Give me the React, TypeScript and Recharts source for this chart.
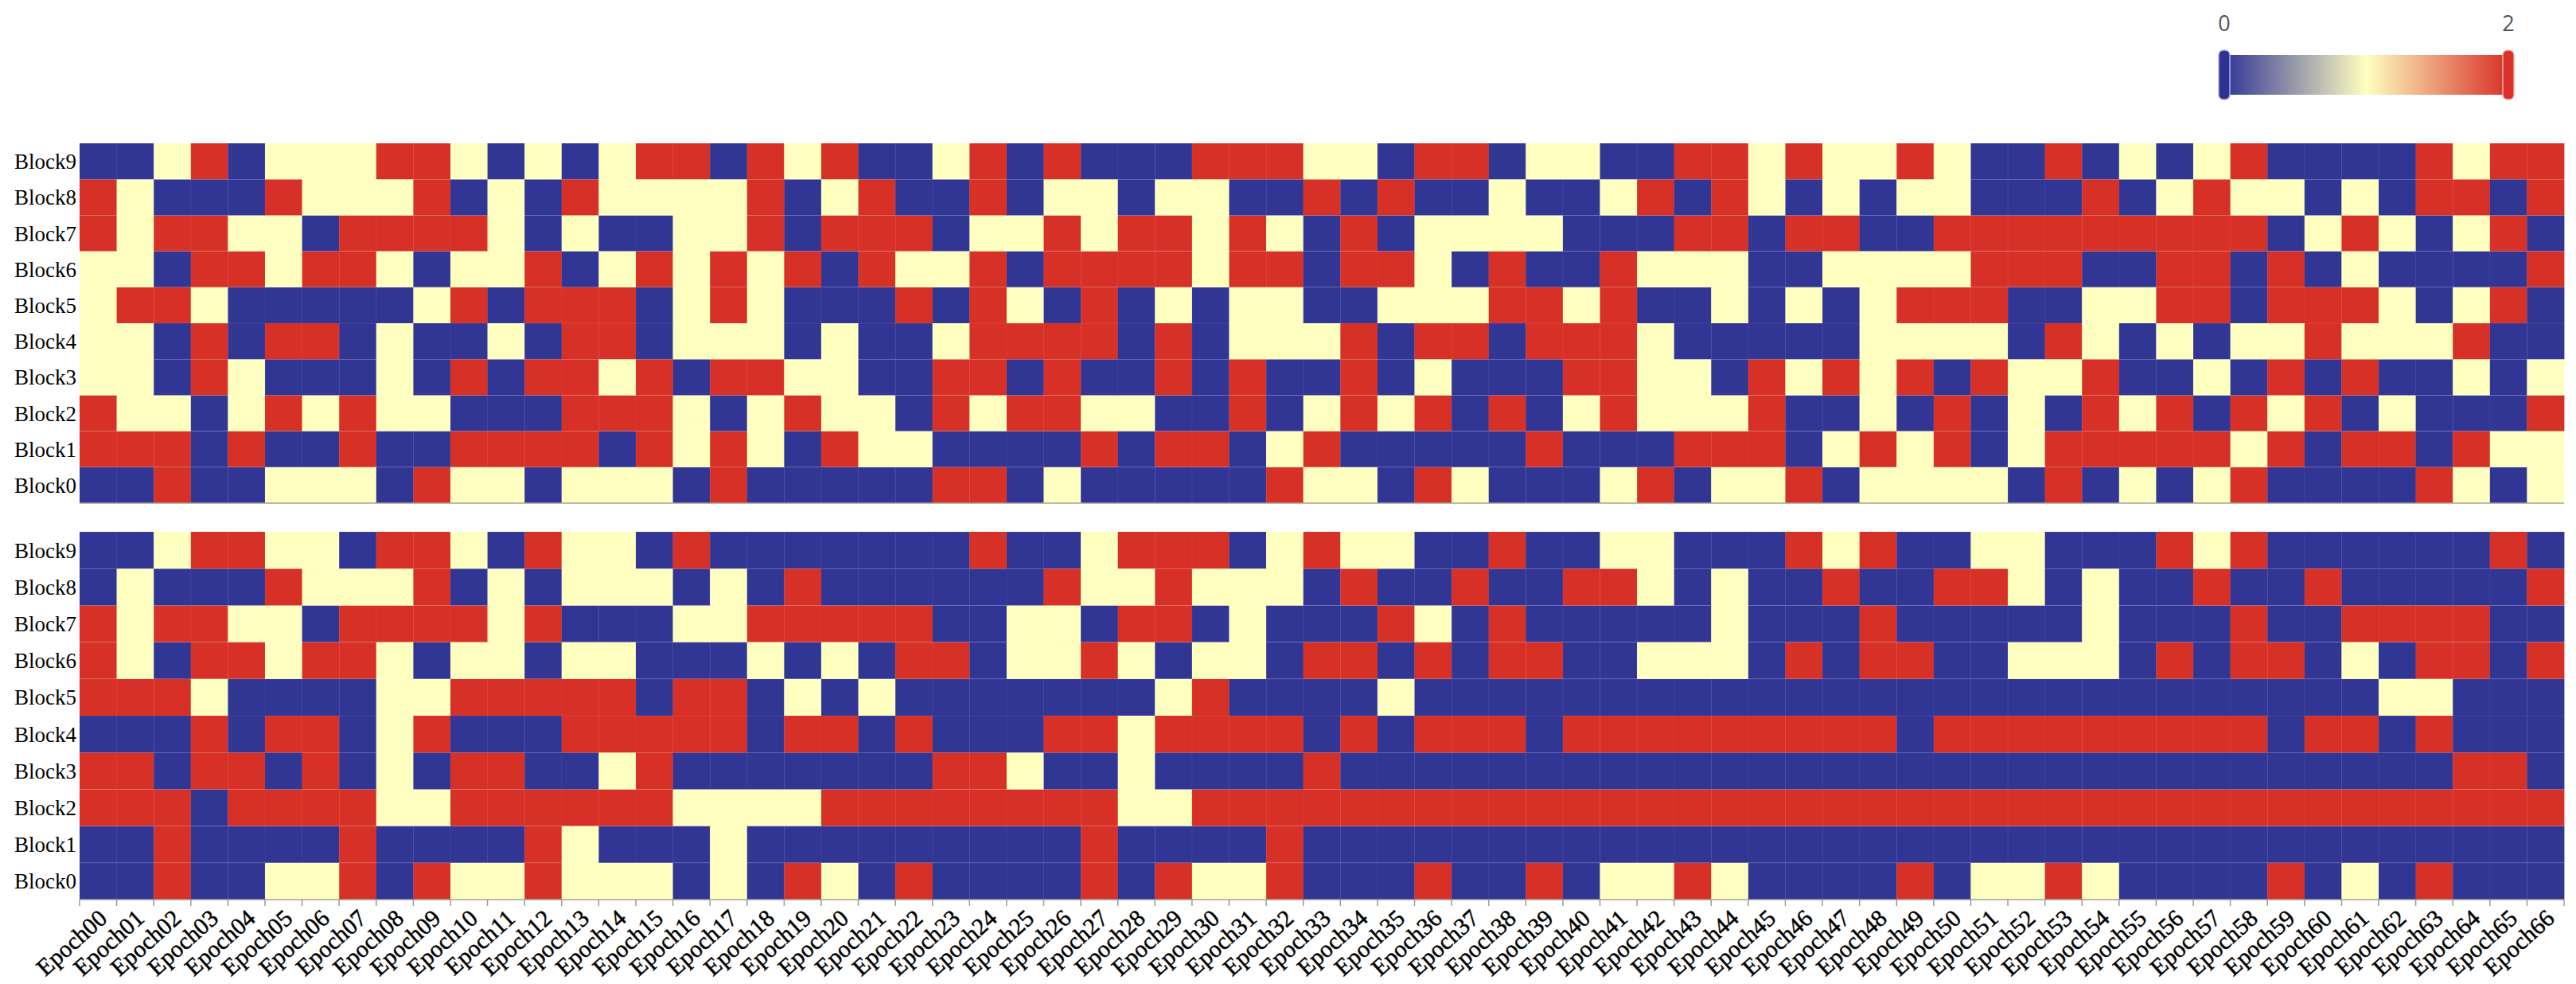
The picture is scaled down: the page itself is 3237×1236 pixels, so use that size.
import React from 'react'
import { BarChart, Bar, Cell, XAxis, YAxis } from 'recharts'

// cell states: 0 = blue, 1 = pale yellow, 2 = red
const COLORS = ['#313695', '#ffffbf', '#d73027']

const EPOCHS = Array.from({ length: 67 }, (_, i) => `Epoch${String(i).padStart(2, '0')}`)
const BLOCKS = ['Block0', 'Block1', 'Block2', 'Block3', 'Block4', 'Block5', 'Block6', 'Block7', 'Block8', 'Block9']
const COLORBAR_LABELS = ['0', '2']

// upper panel, one array per block, Epoch00..Epoch66
const topBlock9 = [0,0,1,2,0,1,1,1,2,2,1,0,1,0,1,2,2, 0,2,1,2,0,0,1,2,0,2,0,0,0,2,2,2,1, 1,0,2,2,0,1,1,0,0,2,2,1,2,1,1,2,1, 0,0,2,0,1,0,1,2,0,0,0,0,2,1,2,2]
const topBlock8 = [2,1,0,0,0,2,1,1,1,2,0,1,0,2,1,1,1, 1,2,0,1,2,0,0,2,0,1,1,0,1,1,0,0,2, 0,2,0,0,1,0,0,1,2,0,2,1,0,1,0,1,1, 0,0,0,2,0,1,2,1,1,0,1,0,2,2,0,2]
const topBlock7 = [2,1,2,2,1,1,0,2,2,2,2,1,0,1,0,0,1, 1,2,0,2,2,2,0,1,1,2,1,2,2,1,2,1,0, 2,0,1,1,1,1,0,0,0,2,2,0,2,2,0,0,2, 2,2,2,2,2,2,2,2,0,1,2,1,0,1,2,0]
const topBlock6 = [1,1,0,2,2,1,2,2,1,0,1,1,2,0,1,2,1, 2,1,2,0,2,1,1,2,0,2,2,2,2,1,2,2,0, 2,2,1,0,2,0,0,2,1,1,1,0,0,1,1,1,1, 2,2,2,0,0,2,2,0,2,0,1,0,0,0,0,2]
const topBlock5 = [1,2,2,1,0,0,0,0,0,1,2,0,2,2,2,0,1, 2,1,0,0,0,2,0,2,1,0,2,0,1,0,1,1,0, 0,1,1,1,2,2,1,2,0,0,1,0,1,0,1,2,2, 2,0,0,1,1,2,2,0,2,2,2,1,0,1,2,0]
const topBlock4 = [1,1,0,2,0,2,2,0,1,0,0,1,0,2,2,0,1, 1,1,0,1,0,0,1,2,2,2,2,0,2,0,1,1,1, 2,0,2,2,0,2,2,2,1,0,0,0,0,0,1,1,1, 1,0,2,1,0,1,0,1,1,2,1,1,1,2,0,0]
const topBlock3 = [1,1,0,2,1,0,0,0,1,0,2,0,2,2,1,2,0, 2,2,1,1,0,0,2,2,0,2,0,0,2,0,2,0,0, 2,0,1,0,0,0,2,2,1,1,0,2,1,2,1,2,0, 2,1,1,2,0,0,1,0,2,0,2,0,0,1,0,1]
const topBlock2 = [2,1,1,0,1,2,1,2,1,1,0,0,0,2,2,2,1, 0,1,2,1,1,0,2,1,2,2,1,1,0,0,2,0,1, 2,1,2,0,2,0,1,2,1,1,1,2,0,0,1,0,2, 0,1,0,2,1,2,0,2,1,2,0,1,0,0,0,2]
const topBlock1 = [2,2,2,0,2,0,0,2,0,0,2,2,2,2,0,2,1, 2,1,0,2,1,1,0,0,0,0,2,0,2,2,0,1,2, 0,0,0,0,0,2,0,0,0,2,2,2,0,1,2,1,2, 0,1,2,2,2,2,2,1,2,0,2,2,0,2,1,1]
const topBlock0 = [0,0,2,0,0,1,1,1,0,2,1,1,0,1,1,1,0, 2,0,0,0,0,0,2,2,0,1,0,0,0,0,0,2,1, 1,0,2,1,0,0,0,1,2,0,1,1,2,0,1,1,1, 1,0,2,0,1,0,1,2,0,0,0,0,2,1,0,1]

// lower panel
const botBlock9 = [0,0,1,2,2,1,1,0,2,2,1,0,2,1,1,0,2, 0,0,0,0,0,0,0,2,0,0,1,2,2,2,0,1,2, 1,1,0,0,2,0,0,1,1,0,0,0,2,1,2,0,0, 1,1,0,0,0,2,1,2,0,0,0,0,0,0,2,0]
const botBlock8 = [0,1,0,0,0,2,1,1,1,2,0,1,0,1,1,1,0, 1,0,2,0,0,0,0,0,0,2,1,1,2,1,1,1,0, 2,0,0,2,0,0,2,2,1,0,1,0,0,2,0,0,2, 2,1,0,1,0,0,2,0,0,2,0,0,0,0,0,2]
const botBlock7 = [2,1,2,2,1,1,0,2,2,2,2,1,2,0,0,0,1, 1,2,2,2,2,2,0,0,1,1,0,2,2,0,1,0,0, 0,2,1,0,2,0,0,0,0,0,1,0,0,0,2,0,0, 0,0,0,1,0,0,0,2,0,0,2,2,2,2,0,0]
const botBlock6 = [2,1,0,2,2,1,2,2,1,0,1,1,0,1,1,0,0, 0,1,0,1,0,2,2,0,1,1,2,1,0,1,1,0,2, 2,0,2,0,2,2,0,0,1,1,1,0,2,0,2,2,0, 0,1,1,1,0,2,0,2,2,0,1,0,2,2,0,2]
const botBlock5 = [2,2,2,1,0,0,0,0,1,1,2,2,2,2,2,0,2, 2,0,1,0,1,0,0,0,0,0,0,0,1,2,0,0,0, 0,1,0,0,0,0,0,0,0,0,0,0,0,0,0,0,0, 0,0,0,0,0,0,0,0,0,0,0,1,1,0,0,0]
const botBlock4 = [0,0,0,2,0,2,2,0,1,2,0,0,0,2,2,2,2, 2,0,2,2,0,2,0,0,0,2,2,1,2,2,2,2,0, 2,0,2,2,2,0,2,2,2,2,2,2,2,2,2,0,2, 2,2,2,2,2,2,2,2,0,2,2,0,2,0,0,0]
const botBlock3 = [2,2,0,2,2,0,2,0,1,0,2,2,0,0,1,2,0, 0,0,0,0,0,0,2,2,1,0,0,1,0,0,0,0,2, 0,0,0,0,0,0,0,0,0,0,0,0,0,0,0,0,0, 0,0,0,0,0,0,0,0,0,0,0,0,0,2,2,0]
const botBlock2 = [2,2,2,0,2,2,2,2,1,1,2,2,2,2,2,2,1, 1,1,1,2,2,2,2,2,2,2,2,1,1,2,2,2,2, 2,2,2,2,2,2,2,2,2,2,2,2,2,2,2,2,2, 2,2,2,2,2,2,2,2,2,2,2,2,2,2,2,2]
const botBlock1 = [0,0,2,0,0,0,0,2,0,0,0,0,2,1,0,0,0, 1,0,0,0,0,0,0,0,0,0,2,0,0,0,0,2,0, 0,0,0,0,0,0,0,0,0,0,0,0,0,0,0,0,0, 0,0,0,0,0,0,0,0,0,0,0,0,0,0,0,0]
const botBlock0 = [0,0,2,0,0,1,1,2,0,2,1,1,2,1,1,1,0, 1,0,2,1,0,2,0,0,0,0,2,0,2,1,1,2,0, 0,0,2,0,0,2,0,1,1,2,1,0,0,0,0,2,0, 1,1,2,1,0,0,0,0,2,0,1,0,2,0,0,0]

const TOP_GRID = [topBlock0, topBlock1, topBlock2, topBlock3, topBlock4, topBlock5, topBlock6, topBlock7, topBlock8, topBlock9]
const BOT_GRID = [botBlock0, botBlock1, botBlock2, botBlock3, botBlock4, botBlock5, botBlock6, botBlock7, botBlock8, botBlock9]

const W = 3237
const H = 1236
const AXIS_W = 100
const RIGHT = 15
const COL_W = (W - AXIS_W - RIGHT) / EPOCHS.length
const SERIF = '"Liberation Serif", "DejaVu Serif", serif'
const BLOCK_TICKS = BLOCKS.map((_, i) => i + 0.5)

const chartData = EPOCHS.map((epoch) => {
  const row: Record<string, string | number> = { epoch }
  BLOCKS.forEach((_, k) => { row[`b${k}`] = 1 })
  return row
})

const EpochTick = (props: any) => {
  const { x, y, payload, index } = props
  const left = x - COL_W / 2
  return (
    <g>
      <line x1={left} x2={left} y1={y} y2={y + 8} stroke="#9a9a9a" strokeWidth={1.5} />
      {index === EPOCHS.length - 1 && (
        <line x1={x + COL_W / 2} x2={x + COL_W / 2} y1={y} y2={y + 8} stroke="#9a9a9a" strokeWidth={1.5} />
      )}
      <text
        transform={`translate(${x + 13},${y + 26}) rotate(-42)`}
        textAnchor="end"
        fontFamily={SERIF}
        fontSize={30}
        fill="#000"
        stroke="#000"
        strokeWidth={0.5}
      >
        {payload.value}
      </text>
    </g>
  )
}

function HeatPanel({ grid, top, height, marginTop, axisHeight, labels }: {
  grid: number[][]
  top: number
  height: number
  marginTop: number
  axisHeight: number
  labels: boolean
}) {
  return (
    <div style={{ position: 'absolute', left: 0, top, width: W, height }}>
      <BarChart
        width={W}
        height={height}
        data={chartData}
        margin={{ top: marginTop, right: RIGHT, bottom: 0, left: 0 }}
        barCategoryGap={0}
        barGap={0}
      >
        <XAxis
          dataKey="epoch"
          type="category"
          height={axisHeight}
          interval={0}
          tickLine={false}
          tickSize={0}
          tickMargin={0}
          axisLine={{ stroke: '#a3a394', strokeWidth: 1.5 }}
          tick={labels ? (p: any) => <EpochTick {...p} /> : false}
        />
        <YAxis
          type="number"
          domain={[0, 10]}
          ticks={BLOCK_TICKS}
          interval={0}
          tickFormatter={(v: number) => BLOCKS[Math.floor(v)]}
          width={AXIS_W}
          axisLine={false}
          tickLine={false}
          tickSize={0}
          tickMargin={4}
          tick={{ fontFamily: SERIF, fontSize: 27, fill: '#000' }}
        />
        {BLOCKS.map((b, k) => (
          <Bar key={b} dataKey={`b${k}`} stackId="s" isAnimationActive={false}>
            {grid[k].map((v, i) => (
              <Cell key={i} fill={COLORS[v]} stroke="rgba(255,255,255,0.06)" strokeWidth={1} />
            ))}
          </Bar>
        ))}
      </BarChart>
    </div>
  )
}

function ColorBar() {
  const x0 = 2795
  const x1 = 3152
  return (
    <svg width={W} height={140} style={{ position: 'absolute', left: 0, top: 0 }}>
      <defs>
        <linearGradient id="cbar" gradientUnits="userSpaceOnUse" x1={x0} x2={x1} y1={0} y2={0}>
          <stop offset="0%" stopColor={COLORS[0]} />
          <stop offset="50%" stopColor={COLORS[1]} />
          <stop offset="100%" stopColor={COLORS[2]} />
        </linearGradient>
      </defs>
      <rect x={x0 + 7} y={69} width={x1 - x0 - 14} height={50} fill="url(#cbar)" />
      <rect x={x0 - 7} y={63} width={14} height={62} rx={6} fill="#2e3192" stroke="#aab0e8" strokeWidth={1.5} />
      <rect x={x1 - 7} y={63} width={14} height={62} rx={6} fill="#d9302a" stroke="#f6b0aa" strokeWidth={1.5} />
      <text x={x0} y={39} textAnchor="middle" fontFamily='"Open Sans", sans-serif' fontSize={27} fill="#555">{COLORBAR_LABELS[0]}</text>
      <text x={x1} y={39} textAnchor="middle" fontFamily='"Open Sans", sans-serif' fontSize={27} fill="#555">{COLORBAR_LABELS[1]}</text>
    </svg>
  )
}

export default function App() {
  return (
    <div style={{ position: 'absolute', left: 0, top: 0, width: W, height: H, background: '#fff', overflow: 'hidden' }}>
      <ColorBar />
      <HeatPanel grid={TOP_GRID} top={0} height={640} marginTop={180} axisHeight={8} labels={false} />
      <HeatPanel grid={BOT_GRID} top={640} height={596} marginTop={28} axisHeight={106} labels />
    </div>
  )
}
